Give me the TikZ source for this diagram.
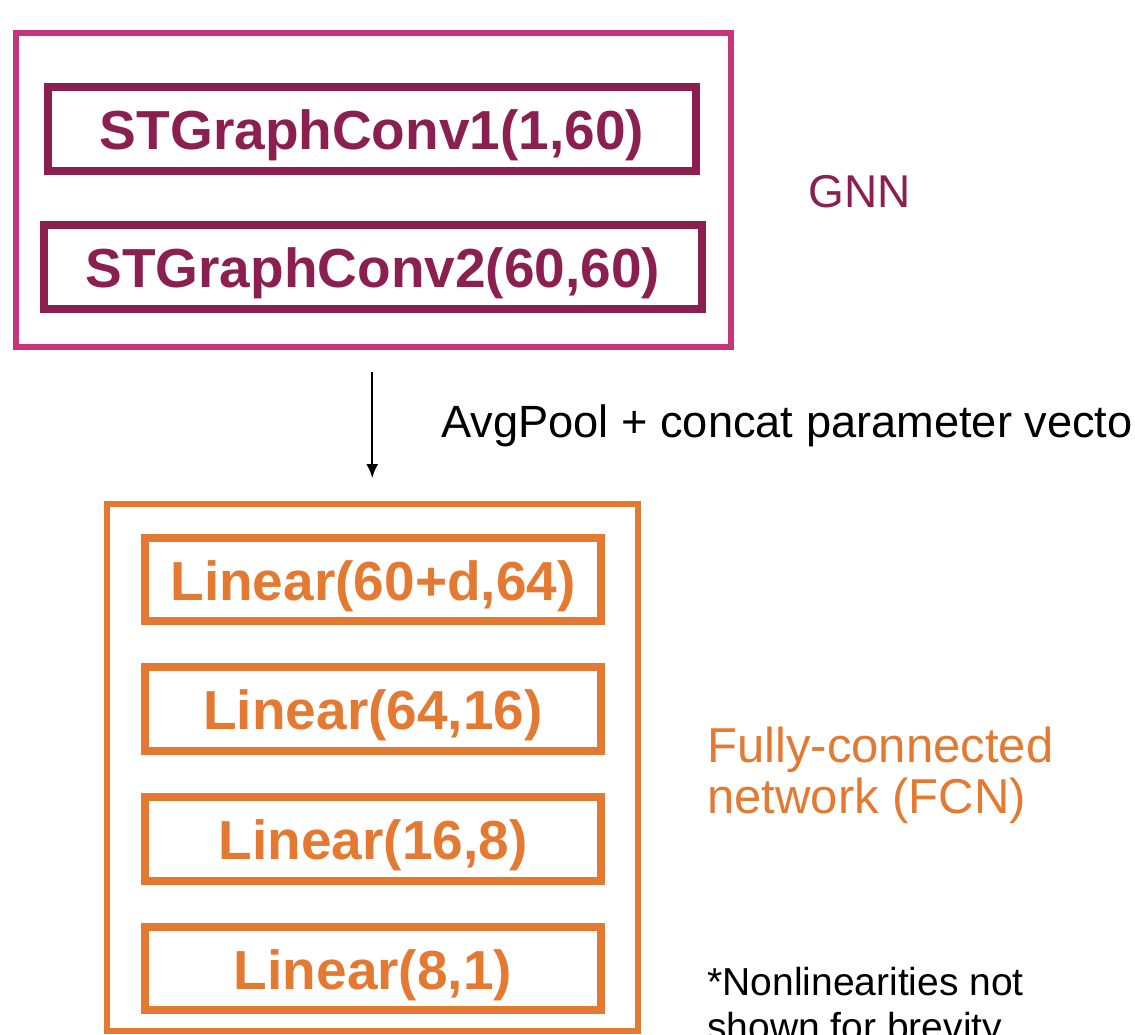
\documentclass[tikz,border=0pt]{standalone}
\usepackage{fontspec}
\setmainfont{Liberation Sans}
\usepackage{tikz}
\usetikzlibrary{arrows.meta}
\definecolor{gnnpink}{RGB}{198,52,122}
\definecolor{gnnmaroon}{RGB}{138,31,80}
\definecolor{fcnorange}{RGB}{228,122,50}

\begin{document}
\begin{tikzpicture}[x=0.5pt, y=-0.5pt,
  frame/.style={draw, line width=3pt, inner sep=0pt, outer sep=0pt},
  layer/.style={draw, line width=4pt, inner sep=0pt, outer sep=0pt, minimum height=41.75pt,
    text height=20.5pt, text depth=0pt, font=\fontsize{27.5}{33}\selectfont\bfseries},
  note/.style={inner sep=0pt, align=left},
  flow/.style={-{Latex[length=7pt,width=6pt]}, line width=0.9pt, shorten <=12.75pt, shorten >=13pt}]
  \useasboundingbox (0,0) rectangle (1135,1034);
  \clip (0,0) rectangle (1135,1034);
  \node[frame, gnnpink, minimum width=357.75pt, minimum height=156.75pt] (gnn) at (373.25,189.75) {};
  \node[layer, gnnmaroon, minimum width=324pt] (conv1) at (372,128.75) {STGraphConv1(1,60)};
  \node[layer, gnnmaroon, minimum width=328.75pt] (conv2) at (372.75,266.75) {STGraphConv2(60,60)};
  \node[note, gnnmaroon, anchor=base west, font=\fontsize{23}{27}\selectfont] (gnnlabel) at (808,207) {GNN};
  \node[frame, fcnorange, minimum width=265.25pt, minimum height=263.5pt] (fcn) at (372.25,767.5) {};
  \foreach \lbl [count=\i] in {{Linear(60+d,64)},{Linear(64,16)},{Linear(16,8)},{Linear(8,1)}}
    \node[layer, fcnorange, minimum width=228pt] (lin\i) at (373,{579.5+129.7*(\i-1)}) {\lbl};
  \draw[flow] (gnn.south -| fcn.north) -- (fcn.north);
  \node[note, anchor=base west, font=\fontsize{22.6}{27}\selectfont] (pool) at (441,437) {AvgPool + concat parameter vector};
  \node[note, fcnorange, anchor=north west, font=\fontsize{24.5}{25.5}\selectfont] (fcnlabel) at (707,727) {Fully-connected\\network (FCN)};
  \node[note, anchor=north west, font=\fontsize{19.5}{22.5}\selectfont] (footnote) at (707,967) {*Nonlinearities not\\shown for brevity};
\end{tikzpicture}
\end{document}
